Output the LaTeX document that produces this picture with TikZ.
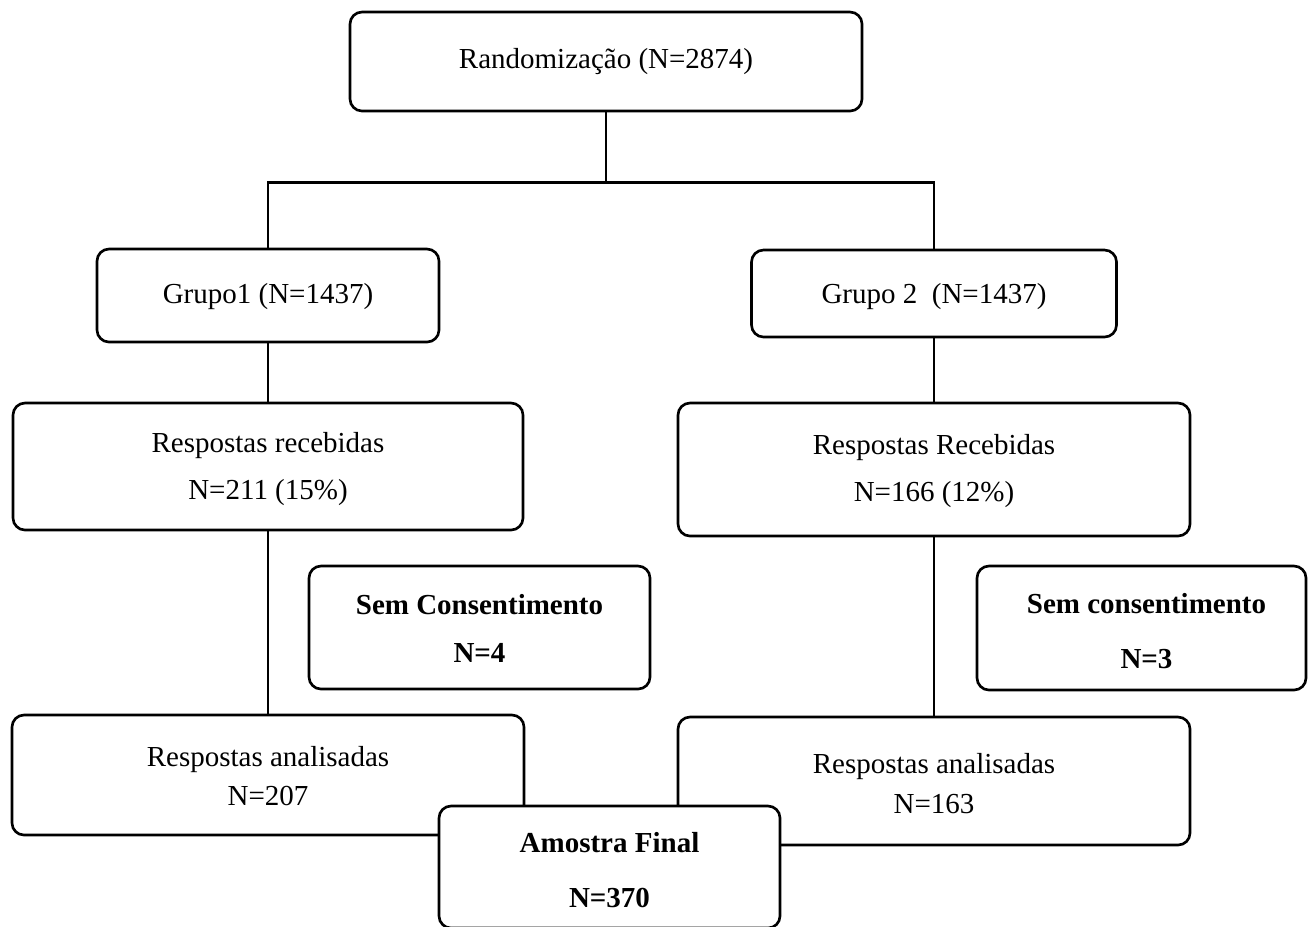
\documentclass[tikz,border=0pt]{standalone}
\usepackage{fontspec}
\setmainfont{Liberation Serif}
\usepackage{tikz}
\usetikzlibrary{calc}

\begin{document}
\begin{tikzpicture}[
        box/.style={draw=black,line width=1.5pt,rounded corners=0.24cm,fill=white,inner sep=0pt},
        txt/.style={align=center,inner sep=0pt,font=\fontsize{16.5}{22.4}\selectfont},
        btxt/.style={align=center,inner sep=0pt,font=\bfseries\fontsize{16.5}{27.3}\selectfont},
        link/.style={line width=1.5pt,black}]
        \useasboundingbox (0,0) rectangle (26.16,-18.52);

        % boxes
        \node[box,minimum width=10.24cm,minimum height=1.98cm] (rand) at (12.12,-1.23) {};
        \node[box,minimum width=6.84cm,minimum height=1.86cm] (g1) at (5.36,-5.91) {};
        \node[box,minimum width=7.30cm,minimum height=1.74cm] (g2) at (18.68,-5.87) {};
        \node[box,minimum width=10.20cm,minimum height=2.54cm] (rl) at (5.36,-9.33) {};
        \node[box,minimum width=10.24cm,minimum height=2.66cm] (rr) at (18.68,-9.39) {};
        \node[box,minimum width=6.82cm,minimum height=2.46cm] (sl) at (9.59,-12.55) {};
        \node[box,minimum width=6.58cm,minimum height=2.48cm] (sr) at (22.83,-12.56) {};
        \node[box,minimum width=10.24cm,minimum height=2.40cm] (al) at (5.36,-15.50) {};
        \node[box,minimum width=10.24cm,minimum height=2.56cm] (ar) at (18.68,-15.62) {};

        % texts
        \node[txt] (randt) at (12.12,-1.24) {Randomização (N=2874)};
        \node[txt] (g1t) at (5.36,-5.94) {Grupo1 (N=1437)};
        \node[txt] (g2t) at (18.68,-5.94) {Grupo 2\ \ (N=1437)};
        \node[txt] (rlt) at (5.36,-9.38) {Respostas recebidas\\[4pt]N=211 (15\%)};
        \node[txt] (rrt) at (18.68,-9.42) {Respostas Recebidas\\[4pt]N=166 (12\%)};
        \node[btxt] (slt) at (9.59,-12.56) {Sem Consentimento\\N=4};
        \node[btxt] (srt) at (22.93,-12.63) {Sem consentimento\\[4pt]N=3};
        \node[txt] (alt) at (5.36,-15.52) {Respostas analisadas\\N=207};
        \node[txt] (art) at (18.68,-15.67) {Respostas analisadas\\N=163};

        % connectors
        \draw[link] (rand.south) -- ++(0,-1.40) coordinate (split);
        \draw[link] (g1.north) |- (split) -| (g2.north);
        \draw[link] (g1.south) -- (rl.north);
        \draw[link] (g2.south) -- (rr.north);
        \draw[link] (rl.south) -- (al.north);
        \draw[link] (rr.south) -- (ar.north);

        % final sample on top
        \node[box,minimum width=6.82cm,minimum height=2.44cm] (af) at (12.19,-17.34) {};
        \node[btxt] (aft) at (12.19,-17.40) {Amostra Final\\[4pt]N=370};

      \end{tikzpicture}
\end{document}
